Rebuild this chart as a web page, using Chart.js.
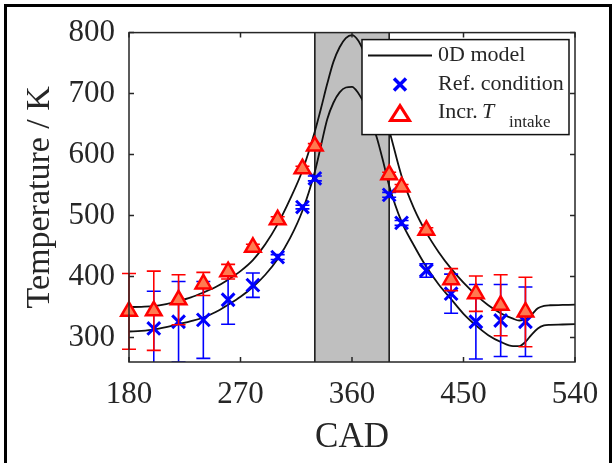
<!DOCTYPE html>
<html>
<head>
<meta charset="utf-8">
<script src="https://cdn.jsdelivr.net/npm/chart.js@4.4.1/dist/chart.umd.min.js"></script>
<style>
  html, body { margin: 0; padding: 0; background: #fff; }
  #wrap { position: relative; width: 613px; height: 463px; overflow: hidden; }
  #frame { position: absolute; left: 4px; top: 4px; width: 602px; height: 470px;
           border: 3px solid #000; border-bottom: none; pointer-events: none; }
  canvas { display: block; }
</style>
</head>
<body>
<div id="wrap"><canvas id="c" width="613" height="463"></canvas><div id="frame"></div></div>
<script>
// Axis ticks
const xTicks = [180, 270, 360, 450, 540];
const yTicks = [300, 400, 500, 600, 700, 800];

// Crank-angle window around TDC that is shaded
const shadeRange = [330, 390];

// 0D model, crank angle grid
const modelCad = [180, 190, 200, 210, 220, 230, 240, 250, 260, 270, 280, 290, 300, 310, 320,
                  330, 335, 340, 345, 350, 355, 360, 365, 370, 375, 380, 385, 390,
                  400, 410, 420, 430, 440, 450, 460, 470, 480, 490, 495, 500, 505, 510, 515, 520, 530, 540];
// 0D model, increased intake temperature
const modelHot = [350, 350.5, 351.5, 355, 360, 366, 374, 383, 395, 409, 427, 453, 486, 527, 574,
                  638, 676, 716, 752, 776, 791, 796, 787, 766, 737, 705, 672, 640,
                  565, 512, 472, 440, 413, 390, 370, 353, 340, 331, 328, 330, 338, 348, 352, 353, 353.5, 354];
// 0D model, reference condition
const modelRef = [310, 311, 313, 317, 322, 327, 333, 342, 354, 367, 383, 403, 429, 463, 508,
                  572, 615, 658, 685, 702, 710, 711, 701, 683, 658, 628, 590, 549,
                  490, 451, 416, 387, 363, 339, 320, 304, 293, 286, 286, 293, 305, 315, 320, 321, 321.5, 322];

// Measurements, reference condition (mean and half error bar)
const refCad  = [200, 220, 240, 260, 280, 300, 320, 330, 390, 400, 420, 440, 460, 480, 500];
const refTemp = [315, 326, 329, 362, 386, 432, 514, 561, 534, 488, 410, 372, 326, 328, 326];
const refErr  = [61, 66, 63, 40, 20, 4, 3, 4, 4, 4, 11, 32, 61, 59, 57];

// Measurements, increased intake temperature
const hotCad  = [180, 200, 220, 240, 260, 280, 300, 320, 330, 390, 400, 420, 440, 460, 480, 500];
const hotTemp = [343, 344, 362, 388, 408, 448, 493, 577, 614, 567, 547, 476, 395, 372, 353, 342];
const hotErr  = [62, 65, 41, 19, 12, 5, 5, 4, 4, 4, 4, 4, 18, 29, 50, 57];

const FONT = '"Liberation Serif", "Times New Roman", serif';
const INK = '#262626';
const BLUE = '#0000ff';
const RED = '#ff0000';

const pts = (xs, ys) => xs.map((v, i) => ({ x: v, y: ys[i] }));

function drawCross(ctx, cx, cy, h, color, lw) {
  ctx.save();
  ctx.strokeStyle = color; ctx.lineWidth = lw;
  ctx.beginPath();
  ctx.moveTo(cx - h, cy - h); ctx.lineTo(cx + h, cy + h);
  ctx.moveTo(cx - h, cy + h); ctx.lineTo(cx + h, cy - h);
  ctx.stroke();
  ctx.restore();
}

function drawTriangle(ctx, cx, cy, w, h, color, lw, fill) {
  ctx.save();
  ctx.strokeStyle = color; ctx.lineWidth = lw; ctx.fillStyle = fill;
  ctx.beginPath();
  ctx.moveTo(cx, cy - h / 2);
  ctx.lineTo(cx + w / 2, cy + h / 2);
  ctx.lineTo(cx - w / 2, cy + h / 2);
  ctx.closePath();
  ctx.fill(); ctx.stroke();
  ctx.restore();
}

const figurePlugin = {
  id: 'figure',
  beforeDatasetsDraw(chart) {
    const { ctx, chartArea: a, scales: { x } } = chart;
    const x0 = x.getPixelForValue(shadeRange[0]);
    const x1 = x.getPixelForValue(shadeRange[1]);
    ctx.save();
    ctx.fillStyle = '#bfbfbf';
    ctx.fillRect(x0, a.top, x1 - x0, a.bottom - a.top);
    ctx.strokeStyle = '#111'; ctx.lineWidth = 1.5;
    ctx.beginPath();
    ctx.moveTo(x0, a.top); ctx.lineTo(x0, a.bottom);
    ctx.moveTo(x1, a.top); ctx.lineTo(x1, a.bottom);
    ctx.stroke();
    ctx.restore();
  },
  beforeDatasetDraw(chart, args) {
    const ds = chart.data.datasets[args.index];
    if (!ds.errors) return;
    const { ctx, chartArea: a, scales: { x, y } } = chart;
    ctx.save();
    ctx.beginPath();
    ctx.rect(a.left - 10, a.top, a.right - a.left + 20, a.bottom - a.top);
    ctx.clip();
    ctx.strokeStyle = ds.borderColor; ctx.lineWidth = 1.6;
    ds.data.forEach((p, i) => {
      const e = ds.errors[i];
      const px = x.getPixelForValue(p.x);
      const yt = y.getPixelForValue(p.y + e);
      const yb = y.getPixelForValue(p.y - e);
      ctx.beginPath();
      ctx.moveTo(px, yt); ctx.lineTo(px, yb);
      ctx.moveTo(px - 7, yt); ctx.lineTo(px + 7, yt);
      ctx.moveTo(px - 7, yb); ctx.lineTo(px + 7, yb);
      ctx.stroke();
    });
    ctx.restore();
  },
  afterDatasetsDraw(chart) {
    const { ctx, chartArea: a, scales: { x, y } } = chart;
    ctx.save();
    // axes box and inward ticks
    ctx.strokeStyle = INK; ctx.lineWidth = 1.5;
    ctx.strokeRect(a.left, a.top, a.right - a.left, a.bottom - a.top);
    ctx.beginPath();
    xTicks.forEach(v => {
      const px = x.getPixelForValue(v);
      ctx.moveTo(px, a.bottom); ctx.lineTo(px, a.bottom - 5);
      ctx.moveTo(px, a.top); ctx.lineTo(px, a.top + 5);
    });
    yTicks.forEach(v => {
      const py = y.getPixelForValue(v);
      ctx.moveTo(a.left, py); ctx.lineTo(a.left + 5, py);
      ctx.moveTo(a.right, py); ctx.lineTo(a.right - 5, py);
    });
    ctx.stroke();

    // legend
    const L = a.right - 213, T = a.top + 7, W = 207, H = 95;
    ctx.fillStyle = '#fff';
    ctx.fillRect(L, T, W, H);
    ctx.strokeStyle = '#111'; ctx.lineWidth = 1.5;
    ctx.strokeRect(L, T, W, H);
    const rows = [T + 16, T + 45, T + 73];
    ctx.strokeStyle = '#111'; ctx.lineWidth = 2;
    ctx.beginPath(); ctx.moveTo(L + 6, rows[0]); ctx.lineTo(L + 70, rows[0]); ctx.stroke();
    drawCross(ctx, L + 38, rows[1], 6, BLUE, 3.5);
    drawTriangle(ctx, L + 38, rows[2] + 0.5, 19, 15, RED, 3, '#fff');
    ctx.fillStyle = INK;
    ctx.textBaseline = 'middle';
    ctx.font = '22px ' + FONT;
    ctx.fillText('0D model', L + 76, rows[0]);
    ctx.fillText('Ref. condition', L + 76, rows[1]);
    ctx.fillText('Incr.', L + 76, rows[2]);
    ctx.font = 'italic 22px ' + FONT;
    ctx.fillText('T', L + 120, rows[2]);
    ctx.font = '17px ' + FONT;
    ctx.fillText('intake', L + 147, rows[2] + 10);
    ctx.restore();
  }
};

new Chart(document.getElementById('c'), {
  type: 'scatter',
  data: {
    datasets: [
      {
        label: 'Incr. T intake',
        data: pts(hotCad, hotTemp),
        errors: hotErr,
        showLine: false,
        clip: false,
        borderColor: RED,
        backgroundColor: '#ff7a50',
        pointStyle: 'triangle',
        pointRadius: 9,
        pointBorderWidth: 2.5,
        order: 0
      },
      {
        label: 'Ref. condition',
        data: pts(refCad, refTemp),
        errors: refErr,
        showLine: false,
        clip: false,
        borderColor: BLUE,
        backgroundColor: BLUE,
        pointStyle: 'crossRot',
        pointRadius: 9,
        pointBorderWidth: 3,
        order: 1
      },
      {
        label: '0D model',
        data: pts(modelCad, modelHot),
        showLine: true,
        borderColor: '#111',
        borderWidth: 1.8,
        pointRadius: 0,
        cubicInterpolationMode: 'monotone',
        order: 2
      },
      {
        label: '0D model (ref)',
        data: pts(modelCad, modelRef),
        showLine: true,
        borderColor: '#111',
        borderWidth: 1.8,
        pointRadius: 0,
        cubicInterpolationMode: 'monotone',
        order: 3
      }
    ]
  },
  options: {
    responsive: false,
    animation: false,
    layout: { padding: { left: 0, right: 38, top: 30, bottom: 0 } },
    plugins: { legend: { display: false }, tooltip: { enabled: false } },
    scales: {
      x: {
        type: 'linear', min: 180, max: 540,
        afterBuildTicks: s => { s.ticks = xTicks.map(v => ({ value: v })); },
        afterFit: s => { s.height = 101; },
        grid: { display: false, drawTicks: false },
        border: { display: false },
        ticks: { font: { family: FONT, size: 31 }, color: INK, padding: 14, maxRotation: 0, autoSkip: false },
        title: { display: true, text: 'CAD', color: INK,
                 font: { family: FONT, size: 35, lineHeight: 1 }, padding: { top: 0, bottom: 8 } }
      },
      y: {
        type: 'linear', min: 260, max: 800,
        afterBuildTicks: s => { s.ticks = yTicks.map(v => ({ value: v })); },
        afterFit: s => { s.width = 129; },
        grid: { display: false, drawTicks: false },
        border: { display: false },
        ticks: { font: { family: FONT, size: 31 }, color: INK, padding: 14, autoSkip: false },
        title: { display: true, text: 'Temperature / K', color: INK,
                 font: { family: FONT, size: 34, lineHeight: 1 }, padding: { top: 23, bottom: 0 } }
      }
    }
  },
  plugins: [figurePlugin]
});
</script>
</body>
</html>
